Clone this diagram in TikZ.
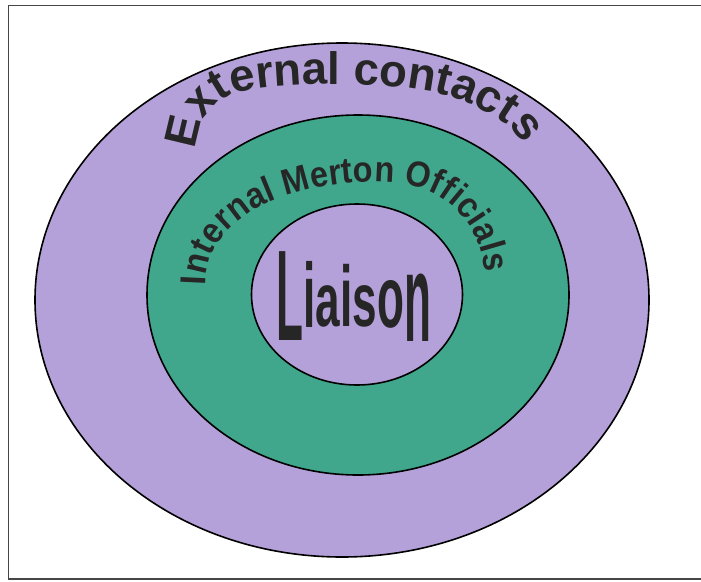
\documentclass[tikz,border=0pt]{standalone}
\usepackage{fontspec}
\usepackage{graphicx}
\usepackage{tikz}
\usetikzlibrary{decorations.text}
\newfontfamily\arcfont{Liberation Sans}
\newfontfamily\arcnarrow{Liberation Sans}[FakeStretch=0.9]
\definecolor{lilac}{RGB}{181,161,217}
\definecolor{ringgreen}{RGB}{64,166,140}
\definecolor{inkgray}{RGB}{38,38,38}
\definecolor{framegray}{RGB}{70,70,70}

\begin{document}
\begin{tikzpicture}[x=1pt,y=-1pt,
 ring/.style={draw=black,line width=1.6pt},
 arclabel/.style={decorate,decoration={text along path,text align=fit to path,text color=inkgray}},
 liaison/.style={inner sep=0pt,anchor=base west,text=inkgray,font=\arcfont\bfseries\fontsize{76}{76}\selectfont}]
\useasboundingbox (0,0) rectangle (701,581);
\draw[line width=1.5pt,draw=framegray] (701,5.5) -- (8.5,5.5) -- (8.5,579) -- (701,579);

% the three rings
\filldraw[ring,fill=lilac] (342,300) ellipse [x radius=307,y radius=257];
\filldraw[ring,fill=ringgreen] (358,295) ellipse [x radius=211,y radius=180];
\filldraw[ring,fill=lilac] (357,294.5) ellipse [x radius=105.5,y radius=90.5];

% curved labels
\path[arclabel,decoration={text={|\arcfont\bfseries\fontsize{45.5}{46}\selectfont|External contacts}}]
  (196,150) .. controls (198,126) and (206,108) .. (230,95)
  .. controls (260,81) and (420,77) .. (470,104)
  .. controls (495,117) and (512,125) .. (520,140);
\path[arclabel,decoration={text={|\arcnarrow\bfseries\fontsize{36}{36}\selectfont|Internal Merton Officials}}]
  (206,285) .. controls (206,262) and (214,240) .. (240,220)
  .. controls (280,185) and (400,166) .. (445,200)
  .. controls (470,218) and (483,245) .. (484,272);

% warped centre word
\foreach \ch/\px/\py/\ys [count=\k] in {L/276/340/1.7,i/303/327/1.2,a/315/326/1.0,i/340/326/1.13,s/352/326/1.0,o/377/327/1.15,n/404/341/1.65}
  \node[liaison] (lt\k) at (\px,\py) {\scalebox{0.58}[\ys]{\ch}};
\end{tikzpicture}
\end{document}
